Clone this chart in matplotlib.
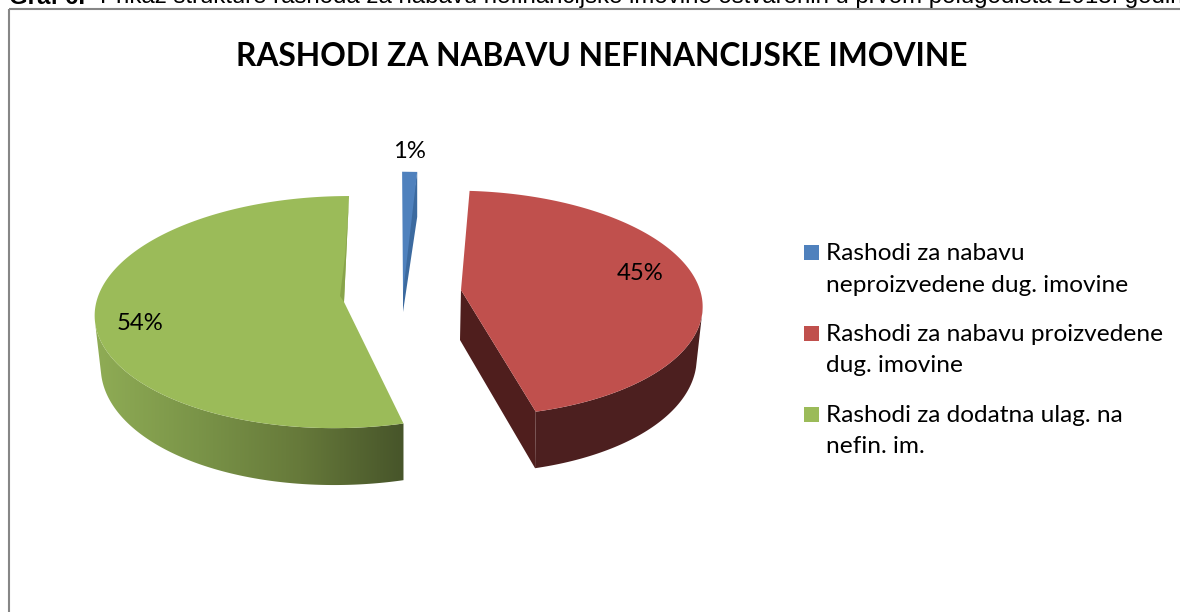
import numpy as np
import matplotlib
matplotlib.use("Agg")
import matplotlib.pyplot as plt
from matplotlib.patches import Polygon, Rectangle
from matplotlib.colors import LinearSegmentedColormap

# ---- data ----
categories = ["Rashodi za nabavu\nneproizvedene dug. imovine",
              "Rashodi za nabavu proizvedene\ndug. imovine",
              "Rashodi za dodatna ulag. na\nnefin. im."]
values = [1.1, 44.9, 54.0]
labels = ["1%", "45%", "54%"]
colors = ["#4f81bd", "#c0504d", "#9bbb59"]
title = "RASHODI ZA NABAVU NEFINANCIJSKE IMOVINE"
caption_bold = "Graf 6."
caption = "Prikaz strukture rashoda za nabavu nefinancijske imovine ostvarenih u prvom polugodišta 2013. godine"

# ---- layout (pixels) ----
W, H = 1180, 612
X0, YH = 403.0, -644.0      # vanishing point
K = 0.119                   # perspective strength
DEPTH = 50.0
SHRINK = 0.02               # bottom rim is farther from the viewer at the sides
radius = [243.0, 239.0, 245.0]
apex = [(402.0, 262.0), (461.0, 290.0), (342.5, 298.0)]
qz = [0.93, 1.0, 1.02]
label_xy = [(409, 151.5), (640, 273.5), (140, 324)]

fig = plt.figure(figsize=(W / 100, H / 100), dpi=100)
ax = fig.add_axes([0, 0, 1, 1])
ax.set_xlim(0, W)
ax.set_ylim(H, 0)
ax.axis("off")


def project(i, th, d=0.0):
    """Screen position of the rim point at th degrees clockwise from the top of slice i."""
    a, q, r = apex[i], qz[i], radius[i]
    t = np.radians(th)
    s = 1.0 / (1.0 + K * q * np.cos(t))
    x = X0 + (a[0] - X0 + r * np.sin(t)) * s
    y = YH + (a[1] - YH) * s + d * s
    if d:
        x = X0 + (x - X0) * (1 - SHRINK * abs(np.sin(t)))
    return np.array([x, y])


def rim(i, t1, t2, d=0.0, n=200):
    return np.array([project(i, th, d) for th in np.linspace(t1, t2, n)])


edges = np.concatenate([[0], np.cumsum(values)]) * 3.6

# frame
ax.plot([9.2, 9.2], [H, 9.2], color="#868686", lw=1.5, solid_capstyle="butt", zorder=1)
ax.plot([8.5, W], [9.2, 9.2], color="#868686", lw=1.5, solid_capstyle="butt", zorder=1)

# --- blue slice
a0 = np.array(apex[0])
rim_s, rim_e = project(0, edges[0]), project(0, edges[1])
rim_eb = project(0, edges[1], DEPTH)
ax.add_patch(Polygon([rim_e, rim_eb, a0 + (1, DEPTH), a0 + (1, 0)], closed=True, fc="#3c6a9f", ec="none", zorder=3))
ax.add_patch(Polygon([rim_s, rim_e, a0 + (1, 0.62 * DEPTH)], closed=True, fc=colors[0], ec="none", zorder=4))

# --- red slice
a1 = np.array(apex[1])
s1, e1 = edges[1], edges[2]
top_w = rim(1, e1, 100)
bot_w = rim(1, 103, e1, DEPTH)
ax.add_patch(Polygon(np.vstack([top_w, bot_w]), closed=True, fc="#4c1f1f", ec="none", zorder=5))
corner, corner_b = project(1, e1), project(1, e1, DEPTH)
ax.add_patch(Polygon([a1, corner, corner_b, a1 + (-1, DEPTH)], closed=True, fc="#4f1e1d", ec="none", zorder=5))
ax.add_patch(Polygon(np.vstack([[a1], rim(1, s1, e1)]), closed=True, fc=colors[1], ec="none", zorder=6))

# --- green slice
a2 = np.array(apex[2])
s2, e2 = edges[2], edges[3]
cmap = LinearSegmentedColormap.from_list("wall", ["#8fac55", "#7a9448", "#66793a", "#47552a"])
grad = ax.imshow(np.linspace(0, 1, 400)[None, :], extent=(95, 404, 490, 300), cmap=cmap,
                 aspect="auto", zorder=5, interpolation="bilinear")
wall = Polygon(np.vstack([rim(2, s2, 258), rim(2, 258, s2, DEPTH)]), closed=True,
               transform=ax.transData, fc="none", ec="none")
ax.add_patch(wall)
grad.set_clip_path(wall)
ax.set_xlim(0, W)
ax.set_ylim(H, 0)
tip = a2 + (1.5, 4)
ax.add_patch(Polygon(np.vstack([[tip], rim(2, s2, e2, n=300)]), closed=True,
                     fc=colors[2], ec="none", zorder=6))
# thin inner wall strip seen along the back cut
rb = project(2, e2)
ax.add_patch(Polygon([rb, tip, tip + (-4, -6), rb + (tip - rb) * 0.55 + (-1, 0)], closed=True,
                     fc="#88a44a", ec="none", zorder=7))

# percent labels
for (lx, ly), s in zip(label_xy, labels):
    ax.text(lx, ly, s, ha="center", va="center", fontsize=17.2, family="Lato", color="black", zorder=8)

# title
ax.text(601.5, 56, title, ha="center", va="center", fontsize=22.9, fontweight="bold",
        family="Lato", color="black", zorder=8)

# legend
sq_y = [252.5, 333.5, 414]
txt_y = [269.5, 350, 431]
for y, ty, c, s in zip(sq_y, txt_y, colors, categories):
    ax.add_patch(Rectangle((804, y - 7.5), 15, 15, fc=c, ec="none", zorder=8))
    ax.text(826, ty, s, ha="left", va="center", fontsize=17.6, family="Lato", linespacing=1.62,
            color="black", zorder=8)

# caption, clipped by the top edge of the image as in the reference
ax.text(9, 3.5, caption_bold, ha="left", va="baseline", fontsize=17.25, fontweight="bold",
        family="Liberation Sans", color="black", zorder=8)
ax.text(100, 3.5, caption, ha="left", va="baseline", fontsize=17.25,
        family="Liberation Sans", color="black", zorder=8)

fig.savefig("out.png", dpi=100, facecolor="white")
